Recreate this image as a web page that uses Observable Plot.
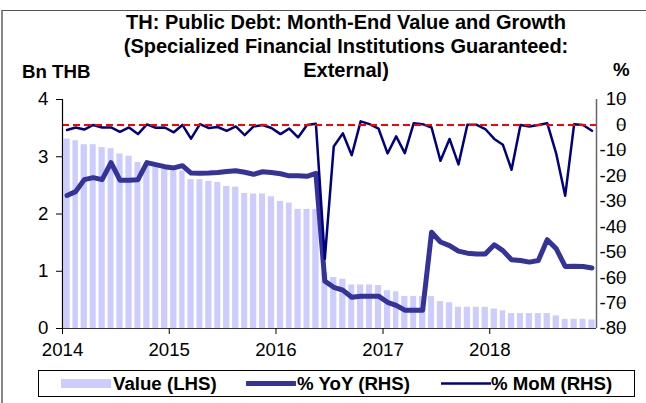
<!DOCTYPE html>
<html>
<head>
<meta charset="utf-8">
<script src="https://cdn.jsdelivr.net/npm/d3@7"></script>
<script src="https://cdn.jsdelivr.net/npm/@observablehq/plot@0.6"></script>
<style>
  body { margin: 0; background: #fff; font-family: "Liberation Sans", Arial, sans-serif; }
  #wrap { position: relative; width: 646px; height: 403px; overflow: hidden; background: #fff; }
  #frame { position: absolute; left: 1px; top: 10px; width: 700px; height: 420px; border-left: 2px solid #888; border-top: 1.5px solid #555; }
  #title { position: absolute; left: 0; top: 10px; width: 692px; text-align: center; font-weight: bold; font-size: 20px; line-height: 24px; color: #000; }
  .unit { position: absolute; font-weight: bold; font-size: 18.67px; line-height: 20px; color: #000; }
  #chart { position: absolute; left: 0; top: 84px; }
  #legend { position: absolute; left: 38px; top: 370px; width: 597px; height: 27px; border: 1px solid #000; box-sizing: border-box; }
  .li { position: absolute; top: 0; height: 25px; line-height: 25px; font-weight: bold; font-size: 18.67px; color: #000; white-space: nowrap; }
  .sw { position: absolute; }
</style>
</head>
<body>
<div id="wrap">
  <div id="frame"></div>
  <div id="title">TH: Public Debt: Month-End Value and Growth<br>(Specialized Financial Institutions Guaranteed:<br>External)</div>
  <div class="unit" style="left:22px;top:62px;">Bn THB</div>
  <div class="unit" style="left:613px;top:60px;">%</div>
  <div id="chart"></div>
  <div id="legend"></div>
</div>
<script>
// ---- data (monthly, Jan 2014 .. Dec 2018) ----
const startYear = 2014;
const years = [2014, 2015, 2016, 2017, 2018];
const leftTicks = [0, 1, 2, 3, 4];
const rightTicks = [10, 0, -10, -20, -30, -40, -50, -60, -70, -80];
const seriesNames = ["Value (LHS)", "% YoY (RHS)", "% MoM (RHS)"];

const valueLHS = [
  3.31, 3.28, 3.21, 3.21, 3.16, 3.14, 3.05, 3.01, 2.90, 2.87, 2.83, 2.80,
  2.75, 2.75, 2.60, 2.60, 2.57, 2.55, 2.48, 2.47, 2.36, 2.35, 2.35, 2.30,
  2.22, 2.19, 2.08, 2.08, 2.08, 0.97, 0.89, 0.86, 0.76, 0.76, 0.76, 0.75,
  0.66, 0.64, 0.56, 0.56, 0.56, 0.56, 0.47, 0.45, 0.37, 0.37, 0.37, 0.37,
  0.34, 0.31, 0.26, 0.26, 0.26, 0.26, 0.26, 0.22, 0.16, 0.16, 0.16, 0.15
];
const yoyRHS = [
  -27.7, -26.2, -21.5, -20.7, -21.5, -14.8, -21.7, -21.7, -21.5, -14.8, -15.6, -16.4,
  -16.9, -16.0, -18.9, -19.0, -18.9, -18.7, -18.3, -18.0, -18.6, -19.4, -18.4, -18.7,
  -19.2, -20.0, -20.0, -20.2, -19.0, -61.4, -63.8, -64.9, -67.7, -67.3, -67.3, -67.3,
  -69.7, -70.9, -72.8, -72.8, -72.8, -42.2, -46.0, -47.4, -49.6, -50.4, -50.7, -50.7,
  -47.1, -49.4, -53.0, -53.3, -53.9, -53.3, -45.1, -48.7, -55.6, -55.5, -55.6, -56.2
];
const momRHS = [
  -2.0, -1.0, -1.8, 0.0, -1.0, -1.0, -2.7, -1.0, -3.6, 0.2, -1.1, -1.0,
  -2.9, 0.0, -5.4, 0.3, -1.2, -0.8, -2.3, -0.6, -4.0, -0.6, 0.0, -1.2,
  -3.6, -1.4, -4.9, 0.0, 0.5, -52.6, -8.5, -3.3, -11.9, 1.4, 0.3, -1.4,
  -11.2, -4.5, -11.1, 0.7, 0.3, -1.0, -14.1, -5.5, -15.5, 0.1, 0.1, -1.6,
  -5.5, -7.8, -17.6, 0.0, -0.6, 0.0, 0.7, -11.4, -27.8, 0.3, 0.0, -2.3
];

// colours
const barColor = "#ccccff", yoyColor = "#333399", momColor = "#000080";

// right axis (%) mapped onto left axis units
const R_MIN = -80, R_MAX = 10, L_MIN = 0, L_MAX = 4;
const toLeft = v => L_MIN + (v - R_MIN) / (R_MAX - R_MIN) * (L_MAX - L_MIN);
const fromLeft = p => String(Math.round(R_MIN + (p - L_MIN) / (L_MAX - L_MIN) * (R_MAX - R_MIN)) + 0);

const rows = valueLHS.map((v, i) => {
  const s = Date.UTC(startYear, i, 1), e = Date.UTC(startYear, i + 1, 1);
  return { start: new Date(s), end: new Date(e), mid: new Date((s + e) / 2),
           value: v, yoy: toLeft(yoyRHS[i]), mom: toLeft(momRHS[i]) };
});
const x0 = new Date(Date.UTC(startYear, 0, 1));
const x1 = new Date(Date.UTC(startYear + years.length, 0, 1));

const plot = Plot.plot({
  width: 646, height: 284,
  marginLeft: 62, marginRight: 50, marginTop: 15, marginBottom: 40,
  style: { fontFamily: "'Liberation Sans', Arial, sans-serif", fontSize: "18.67px", color: "#000", background: "transparent" },
  x: { type: "utc", domain: [x0, x1], axis: null },
  y: { domain: [L_MIN, L_MAX], axis: null },
  marks: [
    Plot.rectY(rows, { x1: "start", x2: "end", y: "value", fill: barColor, insetLeft: 1.4, insetRight: 1.4 }),
    Plot.line(rows, { x: "mid", y: "yoy", stroke: yoyColor, strokeWidth: 5, strokeLinejoin: "round" }),
    Plot.line(rows, { x: "mid", y: "mom", stroke: momColor, strokeWidth: 2.5, strokeLinejoin: "round" }),
    Plot.ruleY([toLeft(0)], { stroke: "#ff0000", strokeWidth: 2, strokeDasharray: "7,4" }),
    Plot.ruleX([x0], { stroke: "#000", strokeWidth: 1.2 }),
    Plot.ruleX([x1], { stroke: "#666", strokeWidth: 1.5 }),
    Plot.ruleY([L_MIN], { stroke: "#333", strokeWidth: 1.2 }),
    Plot.axisY({ anchor: "left", ticks: leftTicks, tickSize: 6, tickPadding: 8, tickFormat: d => String(d) }),
    Plot.axisY({ anchor: "right", ticks: rightTicks.map(toLeft), tickFormat: fromLeft, tickSize: 6, textAnchor: "end", dx: 21, stroke: "#666" }),
    Plot.axisX({ ticks: years.map(y => new Date(Date.UTC(y, 0, 1))), tickFormat: d => String(d.getUTCFullYear()), tickSize: 6, tickPadding: 8 })
  ]
});
document.getElementById("chart").appendChild(plot);

// legend
const legend = document.getElementById("legend");
const items = [
  { sx: 22, tx: 74, svg: `<svg width="50" height="25"><rect x="0" y="8" width="50" height="9" fill="${barColor}"/></svg>` },
  { sx: 207, tx: 258, svg: `<svg width="50" height="25"><line x1="1" y1="12.5" x2="49" y2="12.5" stroke="${yoyColor}" stroke-width="5" stroke-linecap="round"/></svg>` },
  { sx: 402, tx: 452, svg: `<svg width="50" height="25"><line x1="0" y1="12.5" x2="50" y2="12.5" stroke="${momColor}" stroke-width="2.5"/></svg>` }
];
items.forEach((it, i) => {
  const s = document.createElement("div");
  s.className = "sw"; s.style.left = it.sx + "px"; s.style.top = "0px"; s.innerHTML = it.svg;
  legend.appendChild(s);
  const t = document.createElement("div");
  t.className = "li"; t.style.left = it.tx + "px"; t.textContent = seriesNames[i];
  legend.appendChild(t);
});
</script>
</body>
</html>
